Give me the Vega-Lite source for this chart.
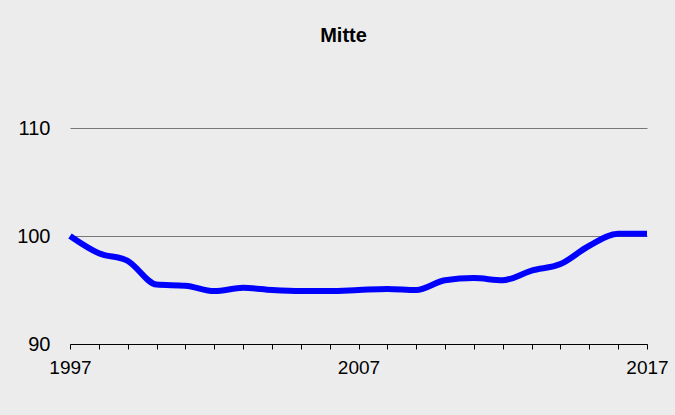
{
  "$schema": "https://vega.github.io/schema/vega-lite/v6.json",
  "autosize": "none",
  "width": 577,
  "height": 270,
  "padding": {"left": 70, "top": 74, "right": 28, "bottom": 71},
  "background": "#ececec",
  "title": {
    "text": "Mitte",
    "font": "Liberation Sans",
    "fontSize": 20,
    "fontWeight": "bold",
    "color": "#000000",
    "anchor": "middle",
    "baseline": "alphabetic",
    "offset": 12,
    "dx": -15
  },
  "config": {
    "view": {"stroke": null},
    "font": "Liberation Sans"
  },
  "data": {
    "values": [
      {"year": 1997, "value": 100.0},
      {"year": 1998, "value": 98.4},
      {"year": 1999, "value": 97.7},
      {"year": 2000, "value": 95.5},
      {"year": 2001, "value": 95.4},
      {"year": 2002, "value": 94.9},
      {"year": 2003, "value": 95.2},
      {"year": 2004, "value": 95.0},
      {"year": 2005, "value": 94.9},
      {"year": 2006, "value": 94.9},
      {"year": 2007, "value": 95.0},
      {"year": 2008, "value": 95.1},
      {"year": 2009, "value": 95.0},
      {"year": 2010, "value": 95.9},
      {"year": 2011, "value": 96.1},
      {"year": 2012, "value": 95.9},
      {"year": 2013, "value": 96.8},
      {"year": 2014, "value": 97.4},
      {"year": 2015, "value": 99.1},
      {"year": 2016, "value": 100.2},
      {"year": 2017, "value": 100.2}
    ]
  },
  "mark": {"type": "line", "interpolate": "monotone", "color": "#0000ff", "strokeWidth": 6, "strokeCap": "butt"},
  "encoding": {
    "x": {
      "field": "year",
      "type": "quantitative",
      "scale": {"domain": [1997, 2017], "nice": false, "zero": false},
      "axis": {
        "title": null,
        "values": [1997,1998,1999,2000,2001,2002,2003,2004,2005,2006,2007,2008,2009,2010,2011,2012,2013,2014,2015,2016,2017],
        "format": "d",
        "labelExpr": "datum.value % 10 == 7 ? datum.label : ''",
        "labelFontSize": 19,
        "labelColor": "#000000",
        "labelPadding": 9,
        "labelFlush": false,
        "labelOverlap": false,
        "domainColor": "#000000",
        "domainWidth": 1,
        "tickColor": "#000000",
        "tickSize": 5,
        "grid": false
      }
    },
    "y": {
      "field": "value",
      "type": "quantitative",
      "scale": {"domain": [90, 115], "nice": false, "zero": false},
      "axis": {
        "title": null,
        "values": [90, 100, 110],
        "labelFontSize": 20,
        "labelColor": "#000000",
        "labelPadding": 20,
        "domain": false,
        "ticks": false,
        "grid": true,
        "gridColor": "#777777",
        "gridWidth": 1
      }
    }
  }
}
